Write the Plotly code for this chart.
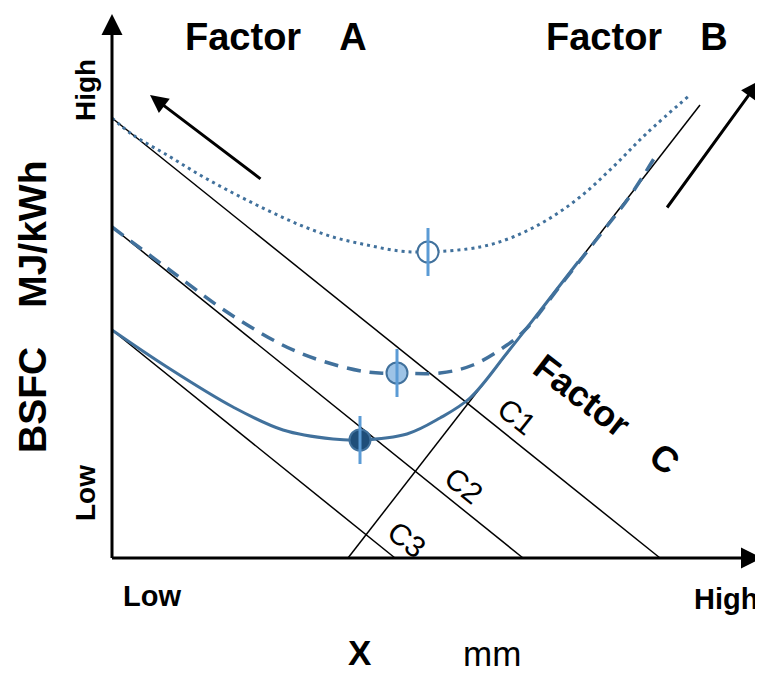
import plotly.graph_objects as go

# Schematic frame: x = distance right of the axis origin, y = height above it
solid_x = [0, 55, 121, 171, 221, 248, 295, 328, 358, 395, 428, 466]
solid_y = [228, 191, 151, 128, 119, 118, 124, 140, 160, 205, 247, 296]
dash_x = [0, 55, 121, 188, 255, 285, 328, 361, 395, 415, 448, 488, 518, 546]
dash_y = [331, 290, 242, 205, 186, 185, 185, 193, 213, 230, 272, 323, 362, 406]
dot_x = [0, 21, 55, 88, 121, 155, 188, 221, 255, 288, 316, 368, 401, 435, 468, 501, 535, 578]
dot_y = [440, 423, 403, 383, 365, 348, 333, 321, 313, 307, 306, 311, 321, 338, 361, 391, 425, 463]

opt_x = [316, 285, 248]
opt_y = [306, 185, 118]
opt_err = [24, 24, 24]
opt_fill = ["white", "#9DC3E6", "#1F4E79"]

c_labels = ["C1", "C2", "C3"]
c_y0 = [440, 331, 228]   # intercept on the y axis
c_x0 = [548, 411, 283]   # intercept on the x axis
c_label_x = [405, 352, 295]
c_label_y = [142, 73, 19]

b_line_x = [236, 588]
b_line_y = [0, 453]

CURVE = "#41719C"
ERR = "#5B9BD5"
FONT = "Liberation Sans, Arial, Noto Sans CJK JP, sans-serif"

fig = go.Figure()

for lab, y0, x0 in zip(c_labels, c_y0, c_x0):
    fig.add_trace(go.Scatter(x=[0, x0], y=[y0, 0], mode="lines",
                             line=dict(color="black", width=1.5), hoverinfo="skip"))
fig.add_trace(go.Scatter(x=b_line_x, y=b_line_y, mode="lines",
                         line=dict(color="black", width=1.5), hoverinfo="skip"))

fig.add_trace(go.Scatter(x=dot_x, y=dot_y, mode="lines",
                         line=dict(color=CURVE, width=3, dash="3px,4px", shape="spline"),
                         hoverinfo="skip"))
fig.add_trace(go.Scatter(x=dash_x, y=dash_y, mode="lines",
                         line=dict(color=CURVE, width=3.5, dash="14px,9px", shape="spline"),
                         hoverinfo="skip"))
fig.add_trace(go.Scatter(x=solid_x, y=solid_y, mode="lines",
                         line=dict(color=CURVE, width=3, shape="spline"),
                         hoverinfo="skip"))

fig.add_trace(go.Scatter(x=opt_x, y=opt_y, mode="markers",
                         marker=dict(size=21, color=opt_fill,
                                     line=dict(color=CURVE, width=2)),
                         hoverinfo="skip"))
for xv, yv, ev in zip(opt_x, opt_y, opt_err):
    fig.add_trace(go.Scatter(x=[xv, xv], y=[yv - ev, yv + ev], mode="lines",
                             line=dict(color=ERR, width=3), hoverinfo="skip"))

ann = []

def arrow(x, y, ax, ay, size, width):
    ann.append(dict(x=x, y=y, ax=ax, ay=ay, xref="x", yref="y", axref="x", ayref="y",
                    showarrow=True, arrowhead=2, arrowsize=size, arrowwidth=width,
                    arrowcolor="black", text="", standoff=0))

arrow(0, 544, 0, -1.5, 1.4, 3)
arrow(650, 0, -1.5, 0, 1.4, 3)
arrow(38, 463, 150, 378, 1.2, 3)
arrow(647, 477, 554, 349, 1.2, 3)

def label(text, x, y, size, bold=True, angle=0):
    ann.append(dict(x=x, y=y, xref="x", yref="y", showarrow=False, textangle=angle,
                    text=f"<b>{text}</b>" if bold else text,
                    font=dict(family=FONT, size=size, color="black"),
                    xanchor="center", yanchor="middle"))

label("Factor\u3000A", 164, 521, 38)
label("Factor\u3000B", 525, 521, 38)
label("BSFC\u3000MJ/kWh", -80, 251, 39, angle=-90)
label("High", -27, 468, 28, angle=-90)
label("Low", -27, 65, 28, angle=-90)
label("Low", 40, -38, 29)
label("High", 614, -41, 29)
label("X", 248, -94, 35)
label("mm", 380, -95, 35, bold=False)
label("Factor\u3000C", 495, 144, 36, angle=37.5)
for lab, lx, ly in zip(c_labels, c_label_x, c_label_y):
    label(lab, lx, ly, 30, bold=False, angle=38.8)

# the page body adds an 8px offset, so the figure is 8px smaller and shifted
fig.update_layout(
    width=755, height=665, margin=dict(l=0, r=0, t=0, b=0),
    paper_bgcolor="white", plot_bgcolor="white", showlegend=False,
    annotations=ann,
    xaxis=dict(range=[-104, 651], showgrid=False, zeroline=False, showticklabels=False,
               showline=False, ticks="", fixedrange=True),
    yaxis=dict(range=[-115, 550], showgrid=False, zeroline=False, showticklabels=False,
               showline=False, ticks="", fixedrange=True),
)

fig.write_html("out.html", config={"displayModeBar": False})
